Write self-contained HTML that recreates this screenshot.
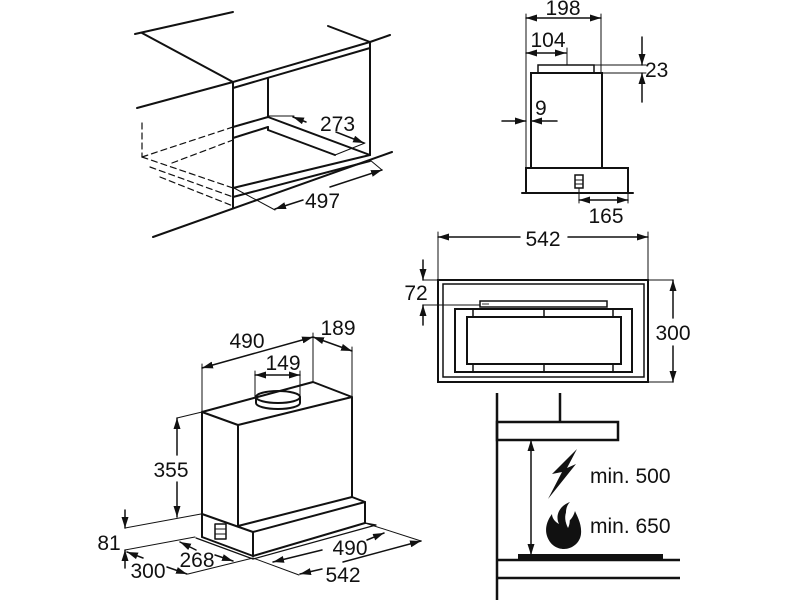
<!DOCTYPE html>
<html><head><meta charset="utf-8"><style>
html,body{margin:0;padding:0;background:#fff;}
svg{display:block;}
text{font-family:"Liberation Sans",Arial,sans-serif;font-size:21px;fill:#111;}
</style></head><body>
<svg width="800" height="600" viewBox="0 0 800 600" xmlns="http://www.w3.org/2000/svg">
<defs>
<marker id="a" markerUnits="userSpaceOnUse" markerWidth="12" markerHeight="8" refX="11" refY="3.5" orient="auto-start-reverse">
<path d="M0,0 L11,3.5 L0,7 z" fill="#111"/>
</marker>
</defs>
<g stroke="#111" fill="none" stroke-linecap="round">
<!-- TOP LEFT CABINET -->
<g stroke-width="2">
<line x1="135" y1="34" x2="233" y2="12"/>
<line x1="142" y1="33" x2="233" y2="82"/>
<line x1="328" y1="26" x2="370" y2="42"/>
<line x1="370" y1="42" x2="390" y2="35"/>
<line x1="233" y1="82" x2="370" y2="42"/>
<line x1="233" y1="88" x2="370" y2="48"/>
<line x1="137" y1="108" x2="233" y2="82"/>
<line x1="233" y1="82" x2="233" y2="208"/>
<line x1="370" y1="42" x2="370" y2="155"/>
<line x1="268" y1="78" x2="268" y2="117"/>
<line x1="233" y1="127" x2="268" y2="117"/>
<line x1="268" y1="117" x2="370" y2="155"/>
<line x1="233" y1="138" x2="268" y2="127"/>
<line x1="268" y1="127" x2="268" y2="130"/>
<line x1="268" y1="130" x2="335" y2="155"/>
<line x1="233" y1="188" x2="370" y2="155"/>
<line x1="233" y1="197" x2="370" y2="161"/>
<line x1="153" y1="237" x2="392" y2="152"/>
</g>
<g stroke-width="1.2" stroke-dasharray="6,4">
<line x1="142" y1="123" x2="142" y2="157"/>
<line x1="142" y1="157" x2="233" y2="127"/>
<line x1="172" y1="163" x2="233" y2="140"/>
<line x1="142" y1="157" x2="233" y2="188"/>
<line x1="150" y1="167" x2="233" y2="197"/>
<line x1="160" y1="177" x2="233" y2="206"/>
</g>
<g stroke-width="1">
<line x1="268" y1="116" x2="294" y2="116"/>
<line x1="335" y1="155" x2="365" y2="143"/>
<line x1="234" y1="188" x2="275" y2="210"/>
<line x1="370" y1="160" x2="382" y2="170"/>
</g>
<g stroke-width="1.5">
<line x1="306" y1="122" x2="293" y2="117" marker-end="url(#a)"/>
<line x1="336" y1="132" x2="364" y2="143" marker-end="url(#a)"/>
<line x1="303" y1="200" x2="275" y2="209" marker-end="url(#a)"/>
<line x1="330" y1="187" x2="382" y2="170" marker-end="url(#a)"/>
</g>

<!-- TOP RIGHT SIDE VIEW -->
<g stroke-width="1">
<line x1="526" y1="14" x2="526" y2="193"/>
<line x1="601" y1="14" x2="601" y2="73"/>
<line x1="567" y1="48" x2="567" y2="65"/>
<line x1="594" y1="65" x2="646" y2="65"/>
<line x1="602" y1="73" x2="646" y2="73"/>
<line x1="579" y1="188" x2="579" y2="203"/>
<line x1="628" y1="193" x2="628" y2="203"/>
</g>
<g stroke-width="1.5">
<line x1="526" y1="18" x2="601" y2="18" marker-start="url(#a)" marker-end="url(#a)"/>
<line x1="526" y1="53" x2="566" y2="53" marker-start="url(#a)" marker-end="url(#a)"/>
<line x1="579" y1="200" x2="628" y2="200" marker-start="url(#a)" marker-end="url(#a)"/>
<line x1="642" y1="37" x2="642" y2="65" marker-end="url(#a)"/>
<line x1="642" y1="102" x2="642" y2="73" marker-end="url(#a)"/>
<line x1="502" y1="121" x2="526" y2="121" marker-end="url(#a)"/>
<line x1="557" y1="121" x2="531" y2="121" marker-end="url(#a)"/>
</g>
<g stroke-width="2">
<rect x="538" y="65" width="56" height="8" stroke-width="1.5"/>
<rect x="531" y="73" width="71" height="95"/>
<rect x="526" y="168" width="102" height="25"/>
<line x1="522" y1="193" x2="633" y2="193"/>
<rect x="575" y="175" width="8" height="13" stroke-width="1.5"/>
<line x1="575" y1="180" x2="583" y2="180" stroke-width="1"/>
<line x1="575" y1="184" x2="583" y2="184" stroke-width="1"/>
</g>

<!-- MIDDLE RIGHT BOTTOM VIEW -->
<g stroke-width="1">
<line x1="438" y1="232" x2="438" y2="382"/>
<line x1="648" y1="232" x2="648" y2="382"/>
<line x1="423" y1="280" x2="673" y2="280"/>
<line x1="648" y1="382" x2="673" y2="382"/>
<line x1="423" y1="305" x2="480" y2="305"/>
</g>
<g stroke-width="1.5">
<line x1="520" y1="237" x2="438" y2="237" marker-end="url(#a)"/>
<line x1="568" y1="237" x2="648" y2="237" marker-end="url(#a)"/>
<line x1="673" y1="318" x2="673" y2="280" marker-end="url(#a)"/>
<line x1="673" y1="346" x2="673" y2="382" marker-end="url(#a)"/>
<line x1="423" y1="260" x2="423" y2="280" marker-end="url(#a)"/>
<line x1="423" y1="325" x2="423" y2="305" marker-end="url(#a)"/>
</g>
<g stroke-width="2">
<rect x="438" y="280" width="210" height="102"/>
<rect x="443" y="284" width="201" height="93" stroke-width="1.5"/>
<rect x="480" y="301" width="127" height="6" stroke-width="1.5"/>
<rect x="455" y="309" width="177" height="63"/>
<rect x="467" y="317" width="154" height="47"/>
<line x1="473" y1="309" x2="473" y2="317" stroke-width="1.5"/>
<line x1="544" y1="309" x2="544" y2="317" stroke-width="1.5"/>
<line x1="613" y1="309" x2="613" y2="317" stroke-width="1.5"/>
<line x1="473" y1="364" x2="473" y2="372" stroke-width="1.5"/>
<line x1="544" y1="364" x2="544" y2="372" stroke-width="1.5"/>
<line x1="613" y1="364" x2="613" y2="372" stroke-width="1.5"/>
</g>
<rect x="482" y="303" width="7" height="2" fill="#999" stroke="none"/>

<!-- BOTTOM RIGHT INSTALL -->
<g stroke-width="2.5" stroke-linecap="butt">
<line x1="497" y1="393" x2="497" y2="600"/>
<line x1="560" y1="393" x2="560" y2="423"/>
<rect x="497" y="422" width="121" height="18"/>
<line x1="497" y1="560" x2="680" y2="560"/>
<line x1="497" y1="578" x2="680" y2="578"/>
</g>
<rect x="518" y="554" width="145" height="6" fill="#111" stroke="none"/>
<line x1="531" y1="440" x2="531" y2="555" stroke-width="1.5" marker-start="url(#a)" marker-end="url(#a)"/>
<path d="M577,449 L552,474 L562,472 L548,499 L576,464 L567,468 Z" fill="#111" stroke="none"/>
<path d="M570,502 C559,506 555,516 559,524 C555,522 552,518 552,514 C546,522 545,530 547,536 C550,545 557,549 564,549 C572,549 580,543 581,534 C582,524 577,516 575,511 C573,518 570,520 568,522 C565,515 565,507 570,502 Z" fill="#111" stroke="none"/>
<path d="M567,510 C564,516 565,522 568,528 C570,524 571,518 567,510 Z" fill="#fff" stroke="none"/>

<!-- BOTTOM LEFT HOOD -->
<g stroke-width="1">
<line x1="202" y1="364" x2="202" y2="412"/>
<line x1="313" y1="333" x2="313" y2="382"/>
<line x1="352" y1="347" x2="352" y2="397"/>
<line x1="255" y1="371" x2="255" y2="398"/>
<line x1="300" y1="371" x2="300" y2="398"/>
<line x1="177" y1="418" x2="202" y2="412"/>
<line x1="125" y1="528" x2="201" y2="514"/>
<line x1="125" y1="550" x2="195" y2="537"/>
<line x1="188" y1="574" x2="253" y2="558"/>
<line x1="253" y1="558" x2="299" y2="575"/>
<line x1="365" y1="523" x2="421" y2="541"/>
</g>
<g stroke-width="1.5">
<line x1="202" y1="368" x2="313" y2="337" marker-start="url(#a)" marker-end="url(#a)"/>
<line x1="313" y1="337" x2="352" y2="351" marker-start="url(#a)" marker-end="url(#a)"/>
<line x1="255" y1="375" x2="300" y2="375" marker-start="url(#a)" marker-end="url(#a)"/>
<line x1="177" y1="455" x2="177" y2="418" marker-end="url(#a)"/>
<line x1="177" y1="482" x2="177" y2="517" marker-end="url(#a)"/>
<line x1="125" y1="510" x2="125" y2="528" marker-end="url(#a)"/>
<line x1="125" y1="568" x2="125" y2="550" marker-end="url(#a)"/>
<line x1="143" y1="558" x2="127" y2="552" marker-end="url(#a)"/>
<line x1="167" y1="567" x2="187" y2="574" marker-end="url(#a)"/>
<line x1="196" y1="550" x2="180" y2="542" marker-end="url(#a)"/>
<line x1="215" y1="555" x2="233" y2="561" marker-end="url(#a)"/>
<line x1="322" y1="550" x2="273" y2="562" marker-end="url(#a)"/>
<line x1="367" y1="540" x2="384" y2="533" marker-end="url(#a)"/>
<line x1="322" y1="569" x2="300" y2="574" marker-end="url(#a)"/>
<line x1="343" y1="562" x2="421" y2="541" marker-end="url(#a)"/>
</g>
<g stroke-width="2" stroke-linejoin="round">
<path d="M256,397 L256,403 A22,6 0 0 0 300,403 L300,397"/>
<ellipse cx="278" cy="397" rx="22" ry="6" fill="#fff"/>
<polygon points="202,412 313,382 352,397 238,425"/>
<line x1="202" y1="412" x2="202" y2="537"/>
<line x1="238" y1="425" x2="238" y2="526"/>
<line x1="352" y1="397" x2="352" y2="497"/>
<line x1="238" y1="526" x2="352" y2="497"/>
<line x1="202" y1="514" x2="253" y2="532"/>
<line x1="253" y1="532" x2="365" y2="502"/>
<line x1="352" y1="497" x2="365" y2="502"/>
<line x1="365" y1="502" x2="365" y2="523"/>
<line x1="253" y1="532" x2="253" y2="556"/>
<line x1="253" y1="556" x2="365" y2="523"/>
<line x1="202" y1="537" x2="253" y2="556"/>
<line x1="196" y1="538" x2="253" y2="559" stroke-width="1.2"/>
<line x1="253" y1="559" x2="376" y2="525" stroke-width="1.2"/>
<line x1="365" y1="523" x2="376" y2="525" stroke-width="1.2"/>
<rect x="215" y="524" width="11" height="15" stroke-width="1.5"/>
<line x1="215" y1="529" x2="226" y2="529" stroke-width="1"/>
<line x1="215" y1="534" x2="226" y2="534" stroke-width="1"/>
</g>
</g>

<!-- TEXT -->
<text x="320" y="131">273</text>
<text x="305" y="208">497</text>
<text x="563" y="15" text-anchor="middle">198</text>
<text x="548" y="47" text-anchor="middle">104</text>
<text x="645" y="77">23</text>
<text x="535" y="115">9</text>
<text x="606" y="223" text-anchor="middle">165</text>
<text x="543" y="246" text-anchor="middle">542</text>
<text x="416" y="300" text-anchor="middle">72</text>
<text x="673" y="340" text-anchor="middle">300</text>
<text x="590" y="483">min. 500</text>
<text x="590" y="533">min. 650</text>
<text x="247" y="348" text-anchor="middle">490</text>
<text x="338" y="335" text-anchor="middle">189</text>
<text x="283" y="370" text-anchor="middle">149</text>
<text x="171" y="477" text-anchor="middle">355</text>
<text x="109" y="550" text-anchor="middle">81</text>
<text x="148" y="578" text-anchor="middle">300</text>
<text x="197" y="567" text-anchor="middle">268</text>
<text x="350" y="555" text-anchor="middle">490</text>
<text x="343" y="582" text-anchor="middle">542</text>
</svg>
</body></html>
